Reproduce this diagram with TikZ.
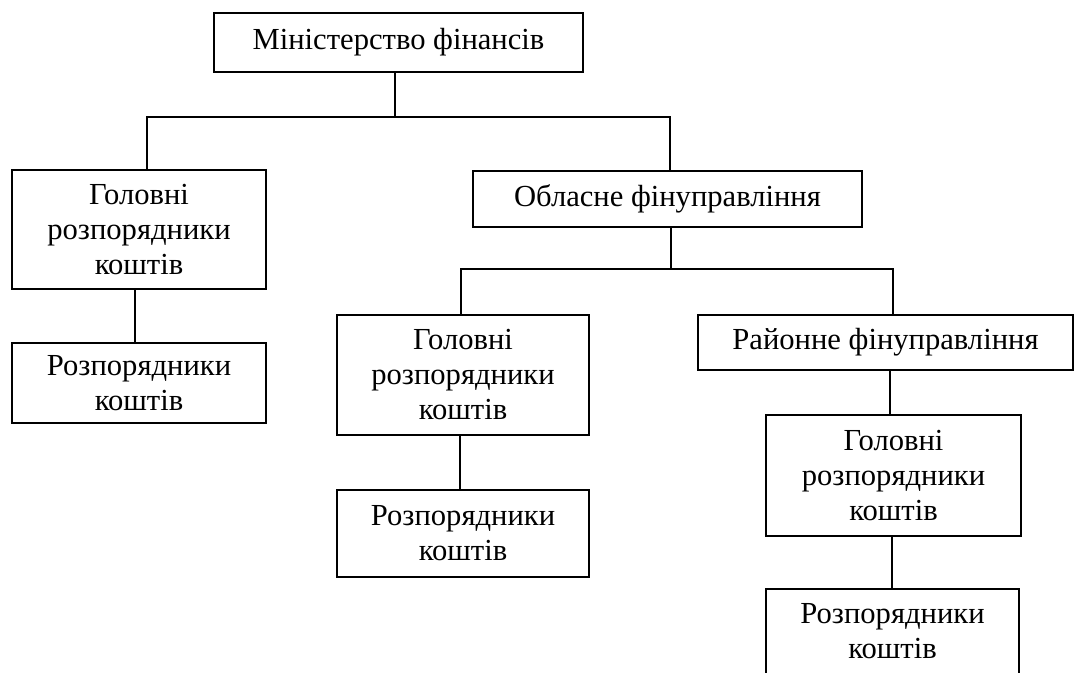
\documentclass[tikz,border=0pt]{standalone}
\usepackage{fontspec}
\setmainfont{Liberation Serif}
\begin{document}
\begin{tikzpicture}[x=0.5pt,y=-0.5pt,
  box/.style={draw, line width=1pt, rectangle, inner sep=0pt, align=center,
    font=\fontsize{15.3}{17.5}\selectfont},
  link/.style={line width=1pt}]
\useasboundingbox (0,0) rectangle (1075,673);
% boxes (centre, size in px)
\node[box, minimum width=184.5pt, minimum height=29.5pt] (A) at (398.5,42.5) {Міністерство фінансів};
\node[box, minimum width=127pt, minimum height=59.5pt] (B) at (139,229.5) {Головні\\розпорядники\\коштів};
\node[box, minimum width=127pt, minimum height=40pt] (C) at (139,383) {Розпорядники\\коштів};
\node[box, minimum width=194.5pt, minimum height=28pt] (D) at (667.5,199) {Обласне фінуправління};
\node[box, minimum width=126pt, minimum height=60pt] (E) at (463,375) {Головні\\розпорядники\\коштів};
\node[box, minimum width=126pt, minimum height=43.5pt] (F) at (463,533.5) {Розпорядники\\коштів};
\node[box, minimum width=187.5pt, minimum height=27.5pt] (G) at (885.5,342.5) {Районне фінуправління};
\node[box, minimum width=127.5pt, minimum height=60.5pt] (H) at (893.5,475.5) {Головні\\розпорядники\\коштів};
\node[box, minimum width=126.5pt, minimum height=43pt] (I) at (892.5,631.5) {Розпорядники\\коштів};
% junctions
\coordinate (ja) at (395,117);
\coordinate (jal) at (147,117);
\coordinate (jar) at (670,117);
\coordinate (jd) at (671,269);
\coordinate (jdl) at (461,269);
\coordinate (jdr) at (893,269);
% connectors
\draw[link] (A.south -| ja) -- (ja);
\draw[link] (B.north -| jal) -- (jal) -- (jar) -- (D.north -| jar);
\draw[link] (B.south -| 135,0) -- (C.north -| 135,0);
\draw[link] (D.south -| jd) -- (jd);
\draw[link] (E.north -| jdl) -- (jdl) -- (jdr) -- (G.north -| jdr);
\draw[link] (E.south -| 460,0) -- (F.north -| 460,0);
\draw[link] (G.south -| 890,0) -- (H.north -| 890,0);
\draw[link] (H.south -| 892,0) -- (I.north -| 892,0);
\end{tikzpicture}
\end{document}
